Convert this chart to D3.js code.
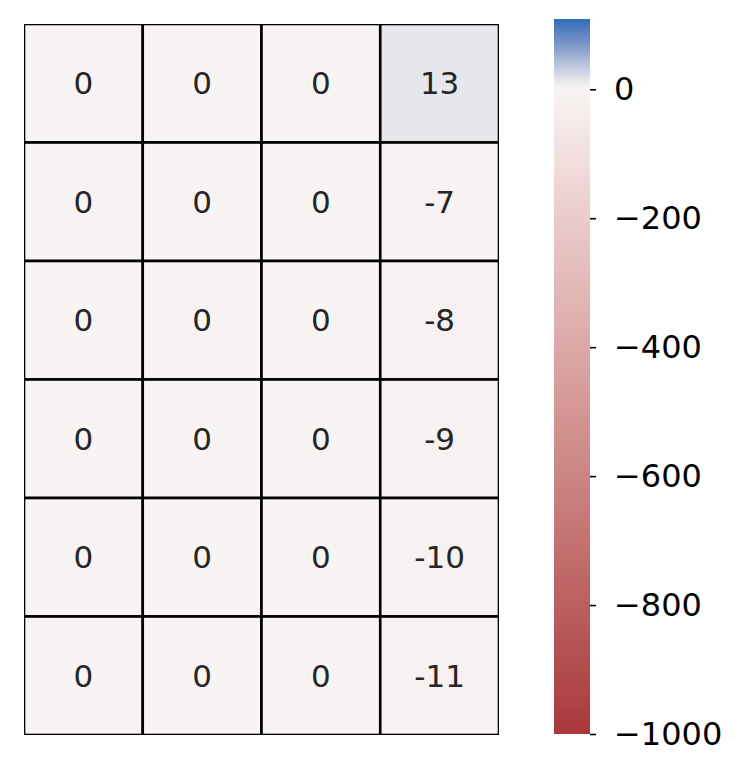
<!DOCTYPE html>
<html>
<head>
<meta charset="utf-8">
<script src="https://cdn.jsdelivr.net/npm/d3@7"></script>
<style>
  body { margin: 0; background: #fff; }
  text { font-family: "DejaVu Sans", sans-serif; }
</style>
</head>
<body>
<svg id="chart" width="747" height="779"></svg>
<script>
// values, row by row (4 columns x 6 rows)
const rows = [0, 1, 2, 3, 4, 5];
const cols = [0, 1, 2, 3];
const values = [
    [0, 0, 0, 13],
    [0, 0, 0, -7],
    [0, 0, 0, -8],
    [0, 0, 0, -9],
    [0, 0, 0, -10],
    [0, 0, 0, -11]
];
const colorbarTicks = [0, -200, -400, -600, -800, -1000];
const colorbarRange = [-1000, 109];

// diverging red - white - blue, squeezed on the positive side
const colorStops = [-1000, -800, -600, -400, -200, -100, 0, 15, 40, 70, 109];
const colorValues = ['#a9373b', '#ba5f60', '#cb8583', '#dba8a6', '#eacbca', '#f1e0df',
                     '#f8f4f3', '#e3e5ea', '#b6c3db', '#7996c8', '#2e6bb8'];
const color = d3.scaleLinear().domain(colorStops).range(colorValues)
    .interpolate(d3.interpolateLab).clamp(true);

const svg = d3.select('#chart');

// heatmap
const heat = {left: 24, top: 24, width: 475, height: 711};
const x = d3.scaleBand().domain(cols).range([heat.left, heat.left + heat.width]);
const y = d3.scaleBand().domain(rows).range([heat.top, heat.top + heat.height]);

svg.append('clipPath').attr('id', 'heatClip')
    .append('rect')
    .attr('x', heat.left).attr('y', heat.top)
    .attr('width', heat.width).attr('height', heat.height);

const cells = [];
rows.forEach((r, i) => cols.forEach((c, j) => cells.push({r, c, v: values[i][j]})));

svg.append('g').attr('clip-path', 'url(#heatClip)')
    .selectAll('rect')
    .data(cells)
    .join('rect')
    .attr('x', d => x(d.c))
    .attr('y', d => y(d.r))
    .attr('width', x.bandwidth())
    .attr('height', y.bandwidth())
    .attr('fill', d => color(d.v))
    .attr('stroke', 'black')
    .attr('stroke-width', 2.6);

svg.append('g')
    .selectAll('text')
    .data(cells)
    .join('text')
    .attr('x', d => x(d.c) + x.bandwidth() / 2)
    .attr('y', d => y(d.r) + y.bandwidth() / 2)
    .attr('dy', '0.36em')
    .attr('text-anchor', 'middle')
    .attr('font-size', 31)
    .attr('fill', '#262626')
    .text(d => d.v);

// colorbar
const bar = {left: 554, top: 19, width: 36, height: 715};
const cy = d3.scaleLinear().domain(colorbarRange).range([bar.top + bar.height, bar.top]);

const grad = svg.append('defs').append('linearGradient')
    .attr('id', 'cbar')
    .attr('x1', 0).attr('y1', 1).attr('x2', 0).attr('y2', 0);
const nStops = 200;
grad.selectAll('stop')
    .data(d3.range(nStops + 1))
    .join('stop')
    .attr('offset', i => i / nStops)
    .attr('stop-color', i => color(colorbarRange[0] + (colorbarRange[1] - colorbarRange[0]) * i / nStops));

svg.append('rect')
    .attr('x', bar.left).attr('y', bar.top)
    .attr('width', bar.width).attr('height', bar.height)
    .attr('fill', 'url(#cbar)');

const axis = svg.append('g')
    .attr('transform', `translate(${bar.left + bar.width},0)`)
    .call(d3.axisRight(cy).tickValues(colorbarTicks).tickSize(6).tickPadding(18)
        .tickFormat(d => d3.format('d')(d).replace('-', '\u2212')));
axis.select('.domain').remove();
axis.selectAll('line').attr('stroke', 'black').attr('stroke-width', 1.6);
axis.selectAll('text')
    .attr('font-size', 32)
    .attr('fill', 'black')
    .attr('font-family', '"DejaVu Sans", sans-serif');
</script>
</body>
</html>
